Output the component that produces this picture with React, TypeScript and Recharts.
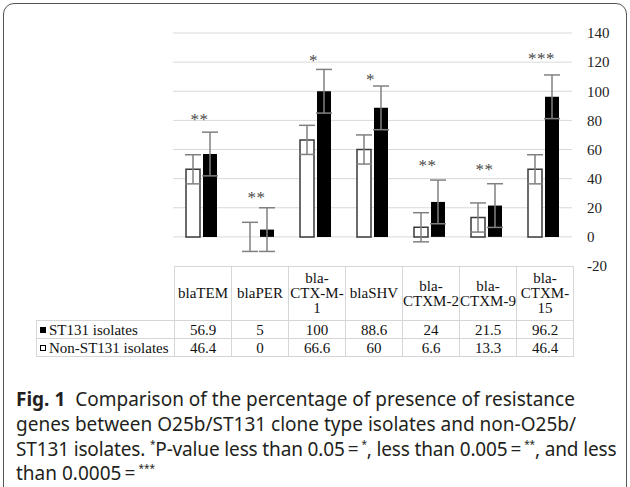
import React from 'react';
import {
  ComposedChart,
  Bar,
  Line,
  XAxis,
  YAxis,
  CartesianGrid,
  ErrorBar,
  LabelList,
  Cell,
} from 'recharts';

// ---- data ----
const categories = ['blaTEM', 'blaPER', 'bla-CTX-M-1', 'blaSHV', 'bla-CTXM-2', 'bla-CTXM-9', 'bla-CTXM-15'];
const headerLines = [
  ['blaTEM'],
  ['blaPER'],
  ['bla-', 'CTX-M-', '1'],
  ['blaSHV'],
  ['bla-', 'CTXM-2'],
  ['bla-', 'CTXM-9'],
  ['bla-', 'CTXM-', '15'],
];
const stValues = [56.9, 5, 100, 88.6, 24, 21.5, 96.2];
const nonStValues = [46.4, 0, 66.6, 60, 6.6, 13.3, 46.4];
const stErrors = [15, 15, 15, 15, 15, 15, 15];
const nonStErrors = [10, 10, 10, 10, 10, 10, 10];
const significance = ['**', '**', '*', '*', '**', '**', '***'];
const significanceLevel = [82, 29, 123, 110, 51, 48, 124];
const yTicks = [-20, 0, 20, 40, 60, 80, 100, 120, 140];
const gridValues = [0, 20, 40, 60, 80, 100, 120, 140];
const seriesNames = ['ST131 isolates', 'Non-ST131 isolates'];

const data = categories.map((c, i) => ({
  cat: c,
  nonSt: nonStValues[i],
  st: stValues[i],
  nonStErr: nonStErrors[i],
  stErr: stErrors[i],
  starY: significanceLevel[i],
  stars: significance[i],
}));

const SERIF = '"Liberation Serif", "Times New Roman", serif';
const SANS = '"Noto Sans", "Open Sans", sans-serif';

const StarLabel = (props: any) => {
  const { x, y, value } = props;
  return (
    <text
      x={x - 2}
      y={y + 8}
      textAnchor="middle"
      fontFamily={SERIF}
      fontSize={17}
      fill="#4a4a4a"
      letterSpacing={0.5}
    >
      {value}
    </text>
  );
};

const cellBorder = '1px solid #d6d6d6';

const Square = ({ filled }: { filled: boolean }) => (
  <span
    style={{
      display: 'inline-block',
      width: 6,
      height: 6,
      boxSizing: 'border-box',
      background: filled ? '#000' : '#fff',
      border: '1px solid #000',
      marginRight: 3,
      verticalAlign: 'middle',
      position: 'relative',
      top: -1,
    }}
  />
);

const Sup = ({ children }: { children: React.ReactNode }) => (
  <span style={{ fontSize: 10, position: 'relative', top: -8, lineHeight: 0 }}>{children}</span>
);

const captionLine = (top: number): React.CSSProperties => ({
  position: 'absolute',
  left: 16,
  top,
  height: 20,
  lineHeight: '20px',
  fontFamily: SANS,
  fontSize: 19,
  color: '#231f20',
  whiteSpace: 'nowrap',
});

export default function App() {
  const rows = [
    { name: seriesNames[0], values: stValues, filled: true },
    { name: seriesNames[1], values: nonStValues, filled: false },
  ];
  const thin = '\u2009';
  return (
    <div
      style={{
        position: 'absolute',
        left: 0,
        top: 0,
        width: 630,
        height: 487,
        overflow: 'hidden',
        background: '#fff',
      }}
    >
      {/* frame */}
      <div
        style={{
          position: 'absolute',
          left: 3,
          top: 3,
          width: 624,
          height: 495,
          boxSizing: 'border-box',
          border: '1.5px solid #555',
          borderRadius: 11,
        }}
      />
      <div style={{ position: 'absolute', left: 0, top: 0 }}>
        <ComposedChart
          width={630}
          height={487}
          data={data}
          margin={{ top: 33, right: 0, bottom: 221, left: 173 }}
          barGap={3}
          barCategoryGap={26}
        >
          <CartesianGrid
            vertical={false}
            stroke="#d9d9d9"
            strokeWidth={1}
            horizontalValues={gridValues}
          />
          <XAxis dataKey="cat" hide />
          <YAxis
            orientation="right"
            width={58}
            domain={[-20, 140]}
            ticks={yTicks}
            interval={0}
            axisLine={false}
            tickLine={false}
            tickSize={6}
            tickMargin={9}
            tick={{ fontFamily: SERIF, fontSize: 15, fill: '#222', textAnchor: 'start' }}
          />
          <Bar
            dataKey="nonSt"
            fill="#ffffff"
            stroke="#3a3a3a"
            strokeWidth={1.5}
            barSize={14}
            minPointSize={1}
            isAnimationActive={false}
          >
            {data.map((d, i) => (
              <Cell
                key={i}
                fill={d.nonSt === 0 ? 'none' : '#ffffff'}
                stroke={d.nonSt === 0 ? 'none' : '#3a3a3a'}
              />
            ))}
            <ErrorBar dataKey="nonStErr" width={8} stroke="#808080" strokeWidth={1.5} direction="y" />
          </Bar>
          <Bar dataKey="st" fill="#000000" barSize={14} isAnimationActive={false}>
            <ErrorBar dataKey="stErr" width={8} stroke="#808080" strokeWidth={1.5} direction="y" />
          </Bar>
          <Line
            dataKey="starY"
            stroke="none"
            dot={false}
            activeDot={false}
            isAnimationActive={false}
          >
            <LabelList dataKey="stars" content={<StarLabel />} />
          </Line>
        </ComposedChart>
      </div>

      {/* data table */}
      <table
        style={{
          position: 'absolute',
          left: 36,
          top: 266,
          borderCollapse: 'collapse',
          tableLayout: 'fixed',
          width: 537,
          fontFamily: SERIF,
          fontSize: 15,
          color: '#111',
        }}
      >
        <colgroup>
          <col style={{ width: 138 }} />
          {categories.map((c) => (
            <col key={c} style={{ width: 57 }} />
          ))}
        </colgroup>
        <tbody>
          <tr style={{ height: 54 }}>
            <td style={{ border: 'none', padding: 0 }} />
            {headerLines.map((lines, i) => (
              <td
                key={categories[i]}
                style={{
                  border: cellBorder,
                  padding: 0,
                  textAlign: 'center',
                  verticalAlign: 'middle',
                  lineHeight: '15px',
                  whiteSpace: 'nowrap',
                }}
              >
                {lines.map((l, k) => (
                  <div key={k}>{l}</div>
                ))}
              </td>
            ))}
          </tr>
          {rows.map((r) => (
            <tr key={r.name} style={{ height: 18 }}>
              <td
                style={{
                  border: cellBorder,
                  padding: '0 0 0 3px',
                  whiteSpace: 'nowrap',
                  lineHeight: '16px',
                }}
              >
                <Square filled={r.filled} />
                {r.name}
              </td>
              {r.values.map((v, i) => (
                <td
                  key={i}
                  style={{
                    border: cellBorder,
                    padding: 0,
                    textAlign: 'center',
                    lineHeight: '16px',
                  }}
                >
                  {v}
                </td>
              ))}
            </tr>
          ))}
        </tbody>
      </table>

      {/* caption */}
      <div style={captionLine(389)}>
        <b>Fig. 1</b>
        {'\u00a0\u00a0'}Comparison of the percentage of presence of resistance
      </div>
      <div style={captionLine(414)}>genes between O25b/ST131 clone type isolates and non-O25b/</div>
      <div style={{ ...captionLine(439), letterSpacing: -0.15 }}>
        ST131 isolates. <Sup>*</Sup>P-value less than 0.05{thin}={thin}<Sup>*</Sup>, less than 0.005{thin}={thin}
        <Sup>**</Sup>, and less
      </div>
      <div style={captionLine(463)}>
        than 0.0005{thin}={thin}<Sup>***</Sup>
      </div>
    </div>
  );
}
